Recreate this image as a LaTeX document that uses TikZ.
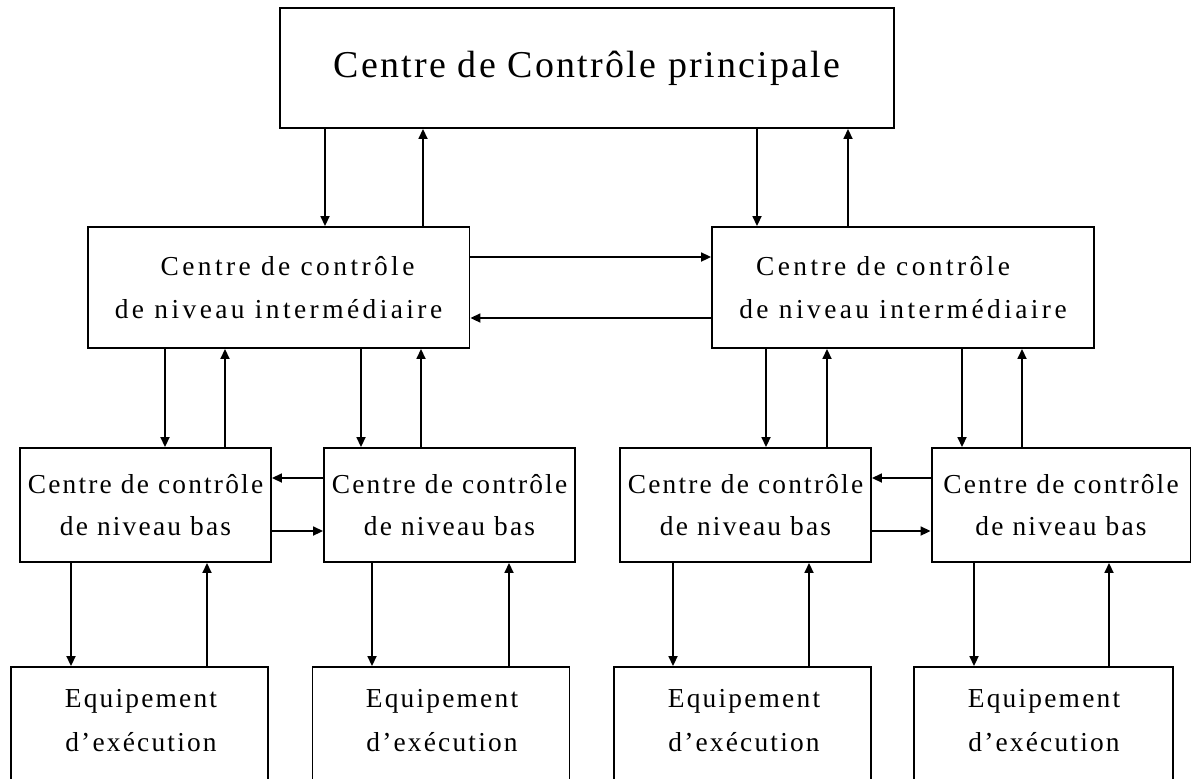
\documentclass[tikz,border=0pt]{standalone}
\usepackage{fontspec}
\setmainfont{Liberation Serif}
\usepackage{tikz}
\usetikzlibrary{arrows.meta}

\begin{document}
\begin{tikzpicture}[x=0.02cm,y=-0.02cm,
    box/.style={draw,line width=1.1pt,inner sep=0pt,align=center},
    topbox/.style={box,minimum width=12.28cm,minimum height=2.4cm,
        font=\fontsize{21.6}{26}\selectfont\addfontfeatures{LetterSpace=6}},
    midbox/.style={box,minimum width=7.64cm,minimum height=2.42cm,
        font=\fontsize{15.6}{24.4}\selectfont\addfontfeatures{LetterSpace=12.5}},
    lowbox/.style={box,minimum width=5.02cm,minimum height=2.28cm,
        font=\fontsize{15.6}{24}\selectfont\addfontfeatures{LetterSpace=8}},
    eqbox/.style={box,minimum width=5.14cm,minimum height=3cm},
    eqtext/.style={align=center,inner sep=0pt,
        font=\fontsize{15.6}{25}\selectfont\addfontfeatures{LetterSpace=8}},
    arr/.style={line width=1pt,-{Triangle[length=0.2cm,width=0.18cm]}}]
    \useasboundingbox (0,0) rectangle (1202,778);
    \clip (0,0) rectangle (1202,778);

    % Main centre
    \node[topbox] (top) at (587,68) {Centre de Contrôle principale};

    % Intermediate level
    \node[midbox] (midL) at (278.5,287.5) {\hspace*{0.36cm}Centre de contrôle\\de niveau intermédiaire};
    \node[midbox] (midR) at (903,287.5) {Centre de contrôle\hspace*{0.8cm}\\de niveau intermédiaire};

    % Low level
    \node[lowbox] (lowA) at (145.5,505) {Centre de contrôle\\de niveau bas};
    \node[lowbox] (lowB) at (449.5,505) {Centre de contrôle\\de niveau bas};
    \node[lowbox] (lowC) at (745.5,505) {Centre de contrôle\\de niveau bas};
    \node[lowbox,minimum width=5.18cm] (lowD) at (1061,505) {Centre de contrôle\\de niveau bas};

    % Execution equipment (boxes run off the bottom)
    \node[eqbox] (eqA) at (139.5,742) {};
    \node[eqbox] (eqB) at (441,742) {};
    \node[eqbox] (eqC) at (742.5,742) {};
    \node[eqbox,minimum width=5.18cm] (eqD) at (1043.5,742) {};
    \foreach \e/\x in {A/141,B/442,C/744,D/1044}
        \node[eqtext] (txt\e) at (\x,721) {Equipement\\d’exécution};

    % Vertical links: down / up
    \foreach \a/\b/\d/\u in {top/midL/325/423, top/midR/757/848,
        midL/lowA/165/225, midL/lowB/361/421,
        midR/lowC/766/827, midR/lowD/962/1022,
        lowA/eqA/71/207, lowB/eqB/372/509,
        lowC/eqC/673/809, lowD/eqD/974/1109} {
        \draw[arr] (\d,0 |- \a.south) -- (\d,0 |- \b.north);
        \draw[arr] (\u,0 |- \b.north) -- (\u,0 |- \a.south);
    }

    % Horizontal links
    \draw[arr] (midL.east |- 0,257) -- (midR.west |- 0,257);
    \draw[arr] (midR.west |- 0,318) -- (midL.east |- 0,318);
    \foreach \l/\r in {lowA/lowB, lowC/lowD} {
        \draw[arr] (\r.west |- 0,478) -- (\l.east |- 0,478);
        \draw[arr] (\l.east |- 0,531) -- (\r.west |- 0,531);
    }
\end{tikzpicture}
\end{document}
